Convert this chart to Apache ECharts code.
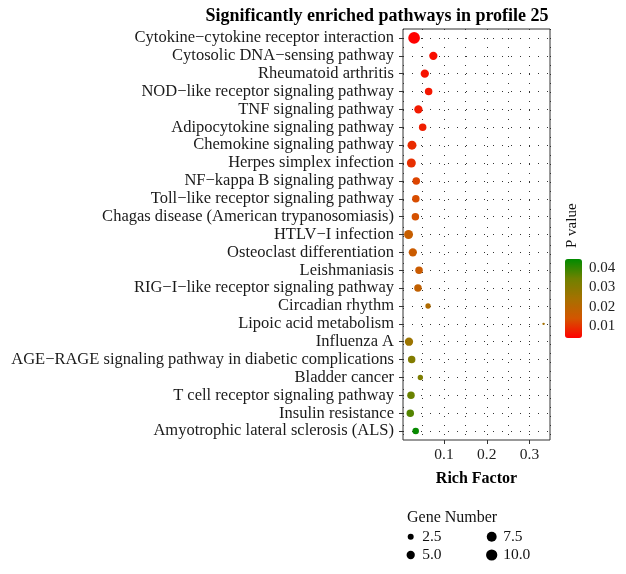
<!DOCTYPE html>
<html><head><meta charset="utf-8">
<script src="https://cdn.jsdelivr.net/npm/echarts@6/dist/echarts.min.js"></script>
<style>html,body{margin:0;padding:0;background:#fff}#c{width:626px;height:574px}</style>
</head><body><div id="c"></div>
<script>
const pathways = [
  'Cytokine\u2212cytokine receptor interaction',
  'Cytosolic DNA\u2212sensing pathway',
  'Rheumatoid arthritis',
  'NOD\u2212like receptor signaling pathway',
  'TNF signaling pathway',
  'Adipocytokine signaling pathway',
  'Chemokine signaling pathway',
  'Herpes simplex infection',
  'NF\u2212kappa B signaling pathway',
  'Toll\u2212like receptor signaling pathway',
  'Chagas disease (American trypanosomiasis)',
  'HTLV\u2212I infection',
  'Osteoclast differentiation',
  'Leishmaniasis',
  'RIG\u2212I\u2212like receptor signaling pathway',
  'Circadian rhythm',
  'Lipoic acid metabolism',
  'Influenza A',
  'AGE\u2212RAGE signaling pathway in diabetic complications',
  'Bladder cancer',
  'T cell receptor signaling pathway',
  'Insulin resistance',
  'Amyotrophic lateral sclerosis (ALS)'
];
const richFactor = [0.030, 0.075, 0.055, 0.064, 0.040, 0.050, 0.025, 0.0235, 0.035, 0.034, 0.033, 0.017,
  0.027, 0.0415, 0.039, 0.0626, 0.333, 0.018, 0.0243, 0.0446, 0.0227, 0.021, 0.0337];
const geneNumber = [11, 5, 5, 4, 5, 4, 6, 6, 4, 4, 4, 6, 5, 4, 4, 2, 1, 5, 4, 2, 4, 4, 3];
const pValue = [0.004, 0.0055, 0.006, 0.0065, 0.007, 0.0075, 0.009, 0.0095, 0.012, 0.013, 0.0135, 0.017,
  0.016, 0.016, 0.018, 0.022, 0.024, 0.026, 0.031, 0.032, 0.035, 0.037, 0.044];
const xTicks = [0.1, 0.2, 0.3];
const sizeBreaks = [2.5, 5.0, 7.5, 10.0];

const FONT = 'Liberation Serif';
const gMin = Math.min(...geneNumber), gMax = Math.max(...geneNumber);
function dotSize(n) {
  const t = Math.max(0, (n - gMin) / (gMax - gMin));
  return 2.4 + 9.3 * Math.sqrt(t);
}
const pMin = 0.0039, pMax = 0.0446;

const chart = echarts.init(document.getElementById('c'), null, {renderer: 'canvas'});
chart.setOption({
  animation: false,
  backgroundColor: '#ffffff',
  textStyle: {fontFamily: FONT},
  title: [
    {text: 'Significantly enriched pathways in profile 25', left: 372, top: 2, textAlign: 'center',
     textStyle: {fontFamily: FONT, fontWeight: 'bold', fontSize: 18, color: '#000'}},
    {text: 'Gene Number', left: 402, top: 505,
     textStyle: {fontFamily: FONT, fontWeight: 'normal', fontSize: 16, color: '#111'}}
  ],
  graphic: [
    {type: 'text', x: 565, y: 248, rotation: Math.PI / 2,
     style: {text: 'P value', font: '15px "Liberation Serif"', fill: '#111'}}
  ],
  grid: [
    {left: 403, right: 76, top: 29, bottom: 134, show: true, borderColor: '#333', borderWidth: 1, backgroundColor: '#fff'},
    {left: 565, width: 17, top: 259, height: 79, show: false},
    {left: 410.7, width: 81, top: 536.7, height: 18.3, show: false}
  ],
  xAxis: [
    {type: 'value', gridIndex: 0, min: 0.004, max: 0.348, splitNumber: 3,
     axisLine: {show: false},
     axisTick: {show: true, length: 4, lineStyle: {color: '#333'}},
     axisLabel: {fontFamily: FONT, fontSize: 15.5, color: '#222', margin: 7,
       showMinLabel: false, showMaxLabel: false,
       formatter: v => {
         const r = Math.round(v * 10) / 10;
         return (xTicks.includes(r) && Math.abs(v - r) < 1e-6) ? String(r) : '';
       }},
     splitLine: {show: true, lineStyle: {type: [1, 8], color: '#333', width: 1}},
     minorTick: {show: false, splitNumber: 2},
     minorSplitLine: {show: true, lineStyle: {type: [1, 8], color: '#333', width: 1}},
     name: 'Rich Factor', nameLocation: 'middle', nameGap: 31,
     nameTextStyle: {fontFamily: FONT, fontWeight: 'bold', fontSize: 16, color: '#000'}},
    {type: 'category', gridIndex: 1, show: false, data: ['a']},
    {type: 'category', gridIndex: 2, show: false, boundaryGap: false, data: ['c0', 'c1']}
  ],
  yAxis: [
    {type: 'category', gridIndex: 0, data: pathways, inverse: true,
     axisLine: {show: false},
     axisTick: {show: true, length: 4, alignWithLabel: true, lineStyle: {color: '#333'}},
     axisLabel: {fontFamily: FONT, fontSize: 16.5, color: '#1a1a1a', margin: 9, interval: 0},
     splitLine: {show: false}},
    {type: 'value', gridIndex: 1, min: pMin, max: pMax, position: 'right',
     axisLine: {show: false},
     axisTick: {show: true, inside: true, length: 3, lineStyle: {color: '#fff', width: 1}},
     axisLabel: {fontFamily: FONT, fontSize: 15, color: '#222', margin: 7,
       showMinLabel: false, showMaxLabel: false, formatter: v => v.toFixed(2)},
     splitLine: {show: false}},
    {type: 'category', gridIndex: 2, show: false, inverse: true, boundaryGap: false, data: ['r0', 'r1']}
  ],
  visualMap: [{
    type: 'continuous', seriesIndex: 0, dimension: 3, min: pMin, max: pMax,
    inRange: {color: ['#FF0000', '#D35600', '#A57100', '#708100', '#008B00']},
    show: true, calculable: false, left: 565, top: 259, itemWidth: 17, itemHeight: 79,
    padding: 0, text: null, showLabel: false, hoverLink: false,
    textStyle: {color: 'transparent'}
  }],
  series: [
    {type: 'scatter', xAxisIndex: 0, yAxisIndex: 0, z: 3,
     data: pathways.map((p, i) => [richFactor[i], p, geneNumber[i], pValue[i]]),
     symbolSize: v => dotSize(v[2]),
     itemStyle: {opacity: 1},
     markLine: {silent: true, symbol: ['none', 'none'], z: 1, label: {show: false},
       lineStyle: {type: [1, 8], color: '#333', width: 1},
       data: pathways.map(p => ({yAxis: p}))}
    },
    {type: 'scatter', xAxisIndex: 2, yAxisIndex: 2,
     data: sizeBreaks.map((v, i) => [Math.floor(i / 2), i % 2, v]),
     symbolSize: v => dotSize(v[2]),
     itemStyle: {color: '#000', opacity: 1},
     label: {show: true, position: 'inside', align: 'left', offset: [11.5, 0],
       fontFamily: FONT, fontSize: 15.5, color: '#111',
       formatter: p => p.value[2].toFixed(1)}
    }
  ]
});
</script></body></html>
